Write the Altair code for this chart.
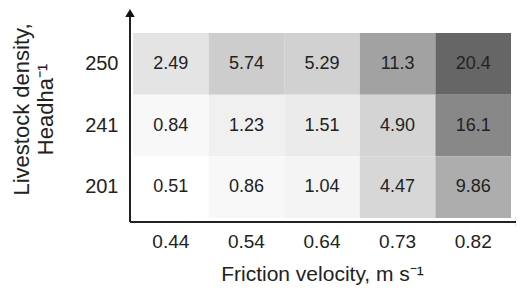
import altair as alt
import pandas as pd

x_cats = ["0.44", "0.54", "0.64", "0.73", "0.82"]
y_cats = ["250", "241", "201"]
vals_250 = [2.49, 5.74, 5.29, 11.3, 20.4]
vals_241 = [0.84, 1.23, 1.51, 4.90, 16.1]
vals_201 = [0.51, 0.86, 1.04, 4.47, 9.86]
labels_250 = ["2.49", "5.74", "5.29", "11.3", "20.4"]
labels_241 = ["0.84", "1.23", "1.51", "4.90", "16.1"]
labels_201 = ["0.51", "0.86", "1.04", "4.47", "9.86"]

rows = []
for yc, vs, ls in [("250", vals_250, labels_250), ("241", vals_241, labels_241), ("201", vals_201, labels_201)]:
    for xc, v, l in zip(x_cats, vs, ls):
        rows.append({"u": xc, "d": yc, "v": v, "lab": l})
df = pd.DataFrame(rows)

FONT = "Liberation Sans"

base = alt.Chart(df)
xenc = alt.X("u:N", sort=x_cats,
             scale=alt.Scale(paddingInner=0, paddingOuter=0),
             axis=alt.Axis(title="Friction velocity, m s⁻¹", labelAngle=0, domain=False, ticks=False,
                           labelPadding=14, labelFontSize=19, labelColor="#222",
                           titleFontSize=21, titleFontWeight="normal", titleColor="#222",
                           titlePadding=12, labelFont=FONT, titleFont=FONT))
yenc = alt.Y("d:N", sort=y_cats,
             scale=alt.Scale(paddingInner=0, paddingOuter=0),
             axis=alt.Axis(title=["Livestock density,", "Headha⁻¹"], domain=False, ticks=False,
                           labelPadding=15, labelFontSize=20, labelColor="#222",
                           titleFontSize=22, titleFontWeight="normal", titleColor="#222",
                           titleX=-112, titleY=76, titleBaseline="middle", titleLineHeight=24,
                           labelFont=FONT, titleFont=FONT))

cells = base.mark_rect().encode(
    x=xenc, y=yenc,
    color=alt.Color("v:Q", legend=None,
                    scale=alt.Scale(domain=[0.51, 1.5, 5.0, 11.3, 16.1, 20.4],
                                    range=["#ffffff", "#ebebeb", "#d3d3d3", "#a2a2a2", "#888888", "#666666"],
                                    interpolate="rgb")),
)
texts = base.mark_text(fontSize=18, font=FONT, color="#222").encode(
    x=alt.X("u:N", sort=x_cats), y=alt.Y("d:N", sort=y_cats), text="lab:N")

one = alt.Data(values=[{"k": 1}])
vline = alt.Chart(one).mark_rule(color="#222", strokeWidth=2).encode(
    x=alt.value(-3), y=alt.value(189), y2=alt.value(-16))
hline = alt.Chart(one).mark_rule(color="#222", strokeWidth=2).encode(
    x=alt.value(-3), x2=alt.value(384), y=alt.value(189))
uparrow = alt.Chart(one).mark_point(shape="triangle-up", filled=True, color="#111", size=90, opacity=1).encode(
    x=alt.value(-3), y=alt.value(-20))
rarrow = alt.Chart(one).mark_point(shape="triangle-right", filled=True, color="#111", size=90, opacity=1).encode(
    x=alt.value(387), y=alt.value(189))

chart = alt.layer(cells, texts, vline, hline, uparrow, rarrow).properties(
    width=378, height=185,
    autosize=alt.AutoSizeParams(type="none"),
    padding={"left": 125, "top": 25, "right": 5, "bottom": 72},
    background="white",
).configure_view(stroke=None)

chart.save("out.html", embed_options={"renderer": "svg", "actions": False})
